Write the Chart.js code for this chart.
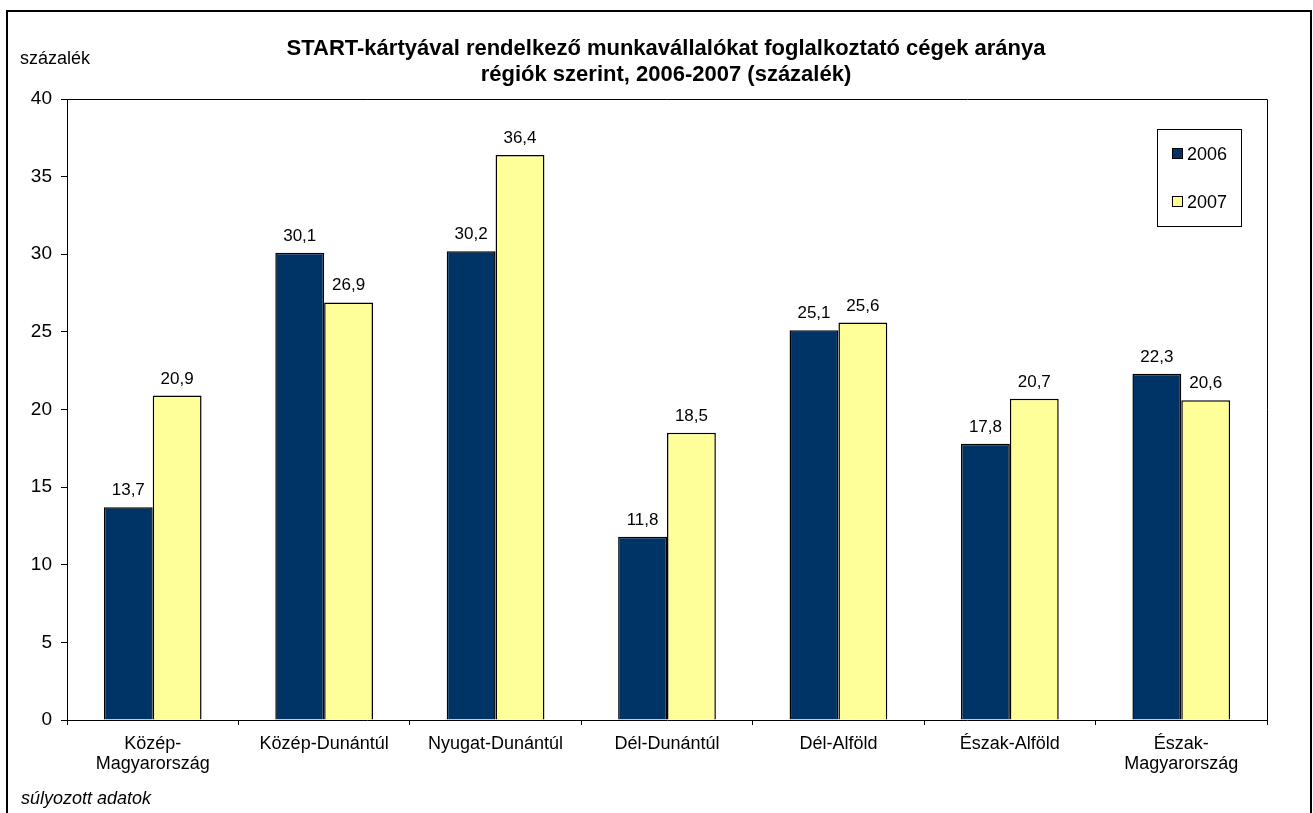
<!DOCTYPE html>
<html>
<head>
<meta charset="utf-8">
<script src="https://cdn.jsdelivr.net/npm/chart.js@4"></script>
<style>
  html, body { margin: 0; padding: 0; background: #fff; }
  #wrap { width: 1313px; height: 813px; }
</style>
</head>
<body>
<div id="wrap"><canvas id="chart" width="1313" height="813"></canvas></div>
<script>
const regions = [
  ["Közép-", "Magyarország"],
  "Közép-Dunántúl",
  "Nyugat-Dunántúl",
  "Dél-Dunántúl",
  "Dél-Alföld",
  "Észak-Alföld",
  ["Észak-", "Magyarország"],
];
const years = ["2006", "2007"];
const share2006 = [13.7, 30.1, 30.2, 11.8, 25.1, 17.8, 22.3];
const share2007 = [20.9, 26.9, 36.4, 18.5, 25.6, 20.7, 20.6];
const yTicks = [0, 5, 10, 15, 20, 25, 30, 35, 40];

const FONT = "'Liberation Sans', Arial, sans-serif";
const colors = ["#003366", "#FFFF99"];

const fmt = v => v.toFixed(1).replace(".", ",");

// frame, titles, value labels and legend box
const decor = {
  id: "decor",
  afterDraw(chart) {
    const { ctx, chartArea: a } = chart;
    ctx.save();

    // outer frame
    ctx.strokeStyle = "#000";
    ctx.lineWidth = 2;
    ctx.strokeRect(7, 11, 1304, 810);

    // plot area top / right edges
    ctx.lineWidth = 1;
    ctx.beginPath();
    ctx.moveTo(a.left, a.top + 0.5);
    ctx.lineTo(a.right + 0.5, a.top + 0.5);
    ctx.lineTo(a.right + 0.5, a.bottom);
    ctx.stroke();

    ctx.fillStyle = "#000";
    ctx.textAlign = "center";
    ctx.textBaseline = "alphabetic";
    ctx.font = "bold 22px " + FONT;
    ctx.fillText("START-kártyával rendelkező munkavállalókat foglalkoztató cégek aránya", 666, 55);
    ctx.fillText("régiók szerint, 2006-2007 (százalék)", 666, 81);

    ctx.textAlign = "left";
    ctx.font = "18px " + FONT;
    ctx.fillText("százalék", 20, 64);
    ctx.font = "italic 18px " + FONT;
    ctx.fillText("súlyozott adatok", 21, 804);

    // value labels above bars
    ctx.textAlign = "center";
    ctx.font = "17px " + FONT;
    chart.data.datasets.forEach((ds, di) => {
      chart.getDatasetMeta(di).data.forEach((bar, i) => {
        ctx.fillText(fmt(ds.data[i]), bar.x, bar.y - 12);
      });
    });

    // legend
    ctx.lineWidth = 1;
    ctx.strokeRect(1157.5, 129.5, 84, 97);
    ctx.textAlign = "left";
    ctx.font = "18px " + FONT;
    chart.data.datasets.forEach((ds, di) => {
      const y = 148 + di * 48;
      ctx.fillStyle = ds.backgroundColor;
      ctx.fillRect(1172.5, y + 0.5, 10, 10);
      ctx.strokeStyle = "#000";
      ctx.strokeRect(1172.5, y + 0.5, 10, 10);
      ctx.fillStyle = "#000";
      ctx.fillText(ds.label, 1187, y + 12);
    });

    ctx.restore();
  },
};

new Chart(document.getElementById("chart"), {
  type: "bar",
  data: {
    labels: regions,
    datasets: [
      { label: years[0], data: share2006, backgroundColor: colors[0], borderColor: "#000", borderWidth: 1.5 },
      { label: years[1], data: share2007, backgroundColor: colors[1], borderColor: "#000", borderWidth: 1.5 },
    ],
  },
  options: {
    responsive: false,
    animation: false,
    devicePixelRatio: 1,
    layout: { padding: { left: 0, top: 99, right: 46, bottom: 0 } },
    datasets: { bar: { categoryPercentage: 0.57, barPercentage: 1 } },
    plugins: { legend: { display: false }, tooltip: { enabled: false } },
    scales: {
      x: {
        afterFit: s => { s.height = 93; },
        grid: { display: true, drawOnChartArea: false, color: "#000", tickLength: 5, offset: true },
        border: { display: true, color: "#000" },
        ticks: {
          color: "#000",
          font: { family: FONT, size: 18, lineHeight: 1.1 },
          padding: 9,
          maxRotation: 0,
          autoSkip: false,
        },
      },
      y: {
        min: 0,
        max: 40,
        afterFit: s => { s.width = 67; },
        afterBuildTicks: s => { s.ticks = yTicks.map(v => ({ value: v })); },
        grid: { display: true, drawOnChartArea: false, color: "#000", tickLength: 6 },
        border: { display: true, color: "#000" },
        ticks: { color: "#000", font: { family: FONT, size: 19 }, padding: 9 },
      },
    },
  },
  plugins: [decor],
});
</script>
</body>
</html>
